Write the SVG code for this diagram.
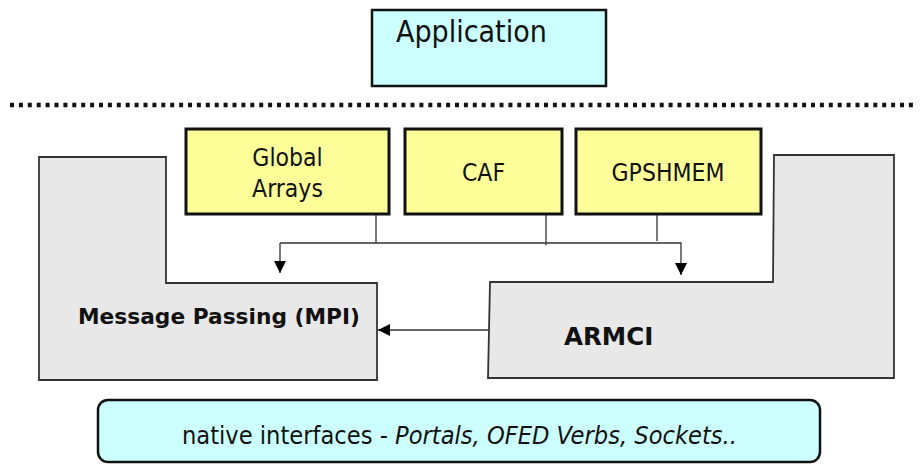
<svg xmlns="http://www.w3.org/2000/svg" width="922" height="465" viewBox="0 0 922 465">
<style>
  .cyan { fill: #ccffff; stroke: #111; stroke-width: 2.5; }
  .yellow { fill: #ffff99; stroke: #111; stroke-width: 3; }
  .grey { fill: #e8e8e8; stroke: #333; stroke-width: 1.8; }
  .t { font-family: "DejaVu Sans Condensed", "DejaVu Sans", sans-serif; fill: #111; }
  .b { font-family: "DejaVu Sans", sans-serif; font-weight: bold; fill: #111; }
  .conn { fill: none; stroke: #333; stroke-width: 1.3; }
</style>
<defs>
  <marker id="arr" viewBox="0 0 10 10" refX="10" refY="5" markerWidth="13" markerHeight="12" markerUnits="userSpaceOnUse" orient="auto">
    <path d="M0,0 L10,5 L0,10 Z" fill="#000"/>
  </marker>
</defs>
<rect width="922" height="465" fill="#fff"/>

<g id="application">
  <rect class="cyan" x="372" y="10" width="234" height="76"/>
  <text class="t" x="396" y="42" font-size="30">Application</text>
</g>

<line id="separator" x1="10" y1="105" x2="916" y2="105" stroke="#111" stroke-width="4.5" stroke-dasharray="4 4.9"/>

<g id="mpi">
  <polygon class="grey" points="39,157 166,157 166,283 377,283 377,380 39,380"/>
  <text class="b" x="78" y="324" font-size="21.5" textLength="282" lengthAdjust="spacingAndGlyphs">Message Passing (MPI)</text>
</g>

<g id="armci">
  <polygon class="grey" points="490,282 773,282 774,155 894,155 894,378 488,378"/>
  <text class="b" x="564" y="345" font-size="24.5">ARMCI</text>
</g>

<g id="global-arrays">
  <rect class="yellow" x="186" y="129" width="203" height="85"/>
  <text class="t" x="287.5" y="166" font-size="24.5" text-anchor="middle">Global</text>
  <text class="t" x="287.5" y="197" font-size="24.5" text-anchor="middle">Arrays</text>
</g>

<g id="caf">
  <rect class="yellow" x="405" y="129" width="157" height="85"/>
  <text class="t" x="483.5" y="181" font-size="24.5" text-anchor="middle">CAF</text>
</g>

<g id="gpshmem">
  <rect class="yellow" x="576" y="129" width="185" height="85"/>
  <text class="t" x="668" y="181" font-size="24.5" text-anchor="middle">GPSHMEM</text>
</g>

<g id="native">
  <rect class="cyan" x="98" y="400" width="722" height="62" rx="10" ry="10" stroke-width="2"/>
  <text class="t" x="182" y="444" font-size="25" textLength="555" lengthAdjust="spacingAndGlyphs">native interfaces - <tspan font-style="italic">Portals, OFED Verbs, Sockets..</tspan></text>
</g>

<g id="connectors">
  <line class="conn" x1="376" y1="215" x2="376" y2="243"/>
  <line class="conn" x1="546" y1="215" x2="546" y2="245"/>
  <line class="conn" x1="657" y1="215" x2="657" y2="241"/>
  <polyline class="conn" points="280,243 681,243 681,275" marker-end="url(#arr)"/>
  <line class="conn" x1="280" y1="243" x2="280" y2="273" marker-end="url(#arr)"/>
  <line class="conn" x1="488" y1="330" x2="378" y2="330" marker-end="url(#arr)"/>
</g>
</svg>
